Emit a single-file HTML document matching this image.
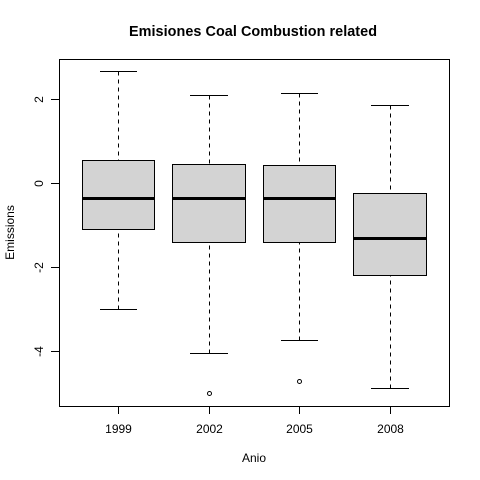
<!DOCTYPE html>
<html lang="en">
<head>
<meta charset="utf-8">
<title>Emisiones Coal Combustion related</title>
<style>
html,body{margin:0;padding:0;background:#fff;}
svg{display:block;font-family:"Liberation Sans",Arial,sans-serif;}
text{fill:#000;}
</style>
</head>
<body>
<svg id="chart" xmlns="http://www.w3.org/2000/svg" width="480" height="480" viewBox="0 0 480 480">
<rect x="0" y="0" width="480" height="480" fill="#fff"/>
<text x="129" y="36" textLength="248" lengthAdjust="spacing" font-size="14.4" font-weight="bold">Emisiones Coal Combustion related</text>
<text x="254" y="462" text-anchor="middle" font-size="12">Anio</text>
<text transform="translate(14 232.5) rotate(-90)" text-anchor="middle" font-size="12">Emissions</text>
<rect x="59.5" y="59.5" width="390" height="347" fill="none" stroke="#000" stroke-width="1"/>
<g id="y-axis"></g>
<g id="x-axis"></g>
<g id="boxes"></g>
</svg>
<script>
const categories = ['1999', '2002', '2005', '2008'];
const whiskerHigh = [2.667, 2.095, 2.14, 1.857];
const quartile3 = [0.548, 0.45, 0.43, -0.235];
const medians = [-0.36, -0.36, -0.36, -1.31];
const quartile1 = [-1.095, -1.40, -1.40, -2.19];
const whiskerLow = [-3.0, -4.05, -3.74, -4.88];
const outliers = [[], [-5.0], [-4.714], []];
const yTicks = [-4, -2, 0, 2];

const NS = 'http://www.w3.org/2000/svg';
const xPos = i => 118.35 + 90.55 * i;
const yPos = v => 183.3 - 42 * v;
const snap = p => Math.floor(p) + 0.5;
const BOX_HALF = 36.3;
const CAP_HALF = 18.15;

function make(parent, tag, props) {
  const el = document.createElementNS(NS, tag);
  for (const k in props) el.setAttribute(k, props[k]);
  parent.appendChild(el);
  return el;
}
function hLine(parent, x1, x2, y) {
  return make(parent, 'line', {x1: x1, x2: x2, y1: snap(y), y2: snap(y), stroke: '#000', 'stroke-width': 1});
}

const yAxis = document.getElementById('y-axis');
const xAxis = document.getElementById('x-axis');
const boxes = document.getElementById('boxes');

yTicks.forEach(t => {
  const y = snap(yPos(t));
  const tick = make(yAxis, 'line', {x1: 51, x2: 59, y1: y, y2: y, stroke: '#000', 'stroke-width': 1});
  
  
  const label = make(yAxis, 'text', {transform: 'translate(43 ' + y + ') rotate(-90)', 'text-anchor': 'middle', 'font-size': 12});
  label.textContent = String(t);
  
  
});

categories.forEach((c, i) => {
  const cx = Math.round(xPos(i)) + 0.5;
  const left = Math.floor(xPos(i) - BOX_HALF) + 0.5;
  const right = Math.floor(xPos(i) + BOX_HALF) + 0.5;
  const capL = Math.floor(xPos(i) - CAP_HALF);
  const capR = Math.ceil(xPos(i) + CAP_HALF);

  const tick = make(xAxis, 'line', {x1: cx, x2: cx, y1: 407, y2: 414, stroke: '#000', 'stroke-width': 1});
  
  
  const label = make(xAxis, 'text', {x: cx, y: 433, 'text-anchor': 'middle', 'font-size': 12});
  label.textContent = c;
  
  

  const upper = make(boxes, 'line', {x1: cx, x2: cx, y1: snap(yPos(whiskerHigh[i])), y2: snap(yPos(quartile3[i])), stroke: '#000', 'stroke-width': 1, 'stroke-dasharray': '4 4'});
  
  
  const lower = make(boxes, 'line', {x1: cx, x2: cx, y1: snap(yPos(whiskerLow[i])), y2: snap(yPos(quartile1[i])), stroke: '#000', 'stroke-width': 1, 'stroke-dasharray': '4 4'});
  
  

  const capTop = hLine(boxes, capL, capR, yPos(whiskerHigh[i]));
  
  
  const capBottom = hLine(boxes, capL, capR, yPos(whiskerLow[i]));
  
  

  const top = snap(yPos(quartile3[i]));
  const bottom = snap(yPos(quartile1[i]));
  const box = make(boxes, 'rect', {x: left, y: top, width: right - left, height: bottom - top, fill: '#d3d3d3', stroke: '#000', 'stroke-width': 1});
  
  

  const medY = snap(yPos(medians[i]));
  const median = make(boxes, 'line', {x1: left - 0.5, x2: right + 0.5, y1: medY, y2: medY, stroke: '#000', 'stroke-width': 3});
  
  

  outliers[i].forEach(v => {
    const point = make(boxes, 'circle', {cx: cx, cy: snap(yPos(v)), r: 2, fill: 'none', stroke: '#000', 'stroke-width': 1});
    
    
  });
});
</script>
</body>
</html>
